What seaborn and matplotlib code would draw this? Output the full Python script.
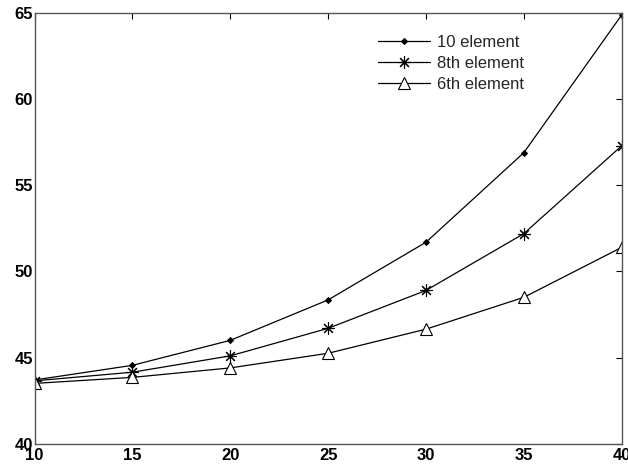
import pandas as pd
import matplotlib
matplotlib.use('Agg')
import matplotlib.pyplot as plt
import seaborn as sns

# values
x_vals = [10, 15, 20, 25, 30, 35, 40]
elem10 = [43.7, 44.55, 46.0, 48.35, 51.7, 56.9, 64.9]
elem8 = [43.65, 44.15, 45.1, 46.7, 48.9, 52.2, 57.3]
elem6 = [43.5, 43.85, 44.4, 45.25, 46.65, 48.5, 51.4]
labels = ['10 element', '8th element', '6th element']

sns.set_theme(style='white')
plt.rcParams['font.family'] = ['Liberation Sans', 'DejaVu Sans']

df = pd.DataFrame({
    'x': x_vals * 3,
    'y': elem10 + elem8 + elem6,
    'series': [labels[0]] * 7 + [labels[1]] * 7 + [labels[2]] * 7,
})

fig = plt.figure(figsize=(6.28, 4.71), dpi=100)
ax = fig.add_axes([0.055, 0.058, 0.935, 0.914])

styles = {
    labels[0]: dict(marker='D', markersize=3, markerfacecolor='black'),
    labels[1]: dict(marker=(8, 2, 0), markersize=9, markerfacecolor='none'),
    labels[2]: dict(marker='^', markersize=9, markerfacecolor='white'),
}
for name in labels:
    sub = df[df['series'] == name]
    sns.lineplot(data=sub, x='x', y='y', ax=ax, color='black', linewidth=0.9,
                 markeredgecolor='black', markeredgewidth=0.8, label=name,
                 **styles[name])

ax.set_xlim(10, 40)
ax.set_ylim(40, 65)
ax.set_xticks(x_vals)
ax.set_yticks([40, 45, 50, 55, 60, 65])
ax.set_xlabel('')
ax.set_ylabel('')
ax.tick_params(direction='in', length=4, width=0.8, top=True, right=True,
               labelsize=12, colors='black', pad=1)
ax.tick_params(axis='x', pad=3)
for lab in ax.get_xticklabels() + ax.get_yticklabels():
    lab.set_fontweight('bold')
for sp in ax.spines.values():
    sp.set_color('#555555')
    sp.set_linewidth(1.0)

ax.legend(loc='upper left', bbox_to_anchor=(0.56, 0.985), frameon=False,
          fontsize=12, handlelength=3.1, labelspacing=0.38, handletextpad=0.4)

plt.savefig('out.png', dpi=100)
plt.close()
